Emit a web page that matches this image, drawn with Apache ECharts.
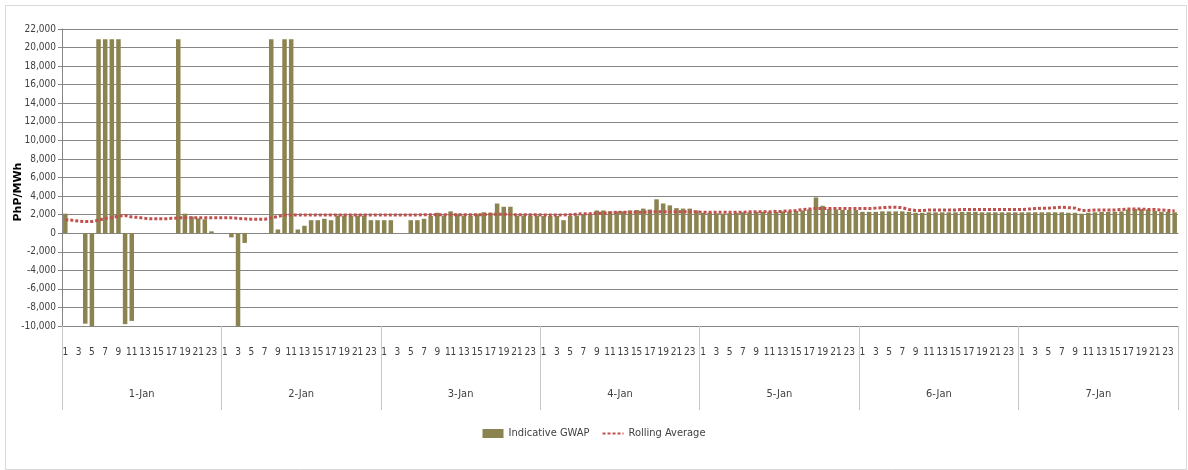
<!DOCTYPE html>
<html>
<head>
<meta charset="utf-8">
<script src="https://cdn.jsdelivr.net/npm/echarts@6/dist/echarts.min.js"></script>
<style>
html,body{margin:0;padding:0;background:#fff;}
#chart{width:1188px;height:470px;}
</style>
</head>
<body>
<div id="chart"></div>
<script>
const days = ['1-Jan','2-Jan','3-Jan','4-Jan','5-Jan','6-Jan','7-Jan'];
const hours = Array.from({length:24}, (_, i) => String(i + 1));
const yTicks = { min: -10000, max: 22000, step: 2000 };

const gwapDay1 = [2100,0,0,-9750,-10000,20900,20900,20900,20900,-9800,-9450,0,0,0,0,0,0,20900,2100,1800,1600,1500,200,0];
const gwapDay2 = [0,-450,-10000,-1050,0,0,0,20900,400,20900,20900,400,800,1400,1400,1550,1400,1900,1900,1900,1900,1900,1400,1400];
const gwapDay3 = [1400,1400,0,0,1400,1400,1550,1850,2200,1900,2350,2100,1900,1900,2100,2250,2200,3200,2850,2850,1900,1900,1900,1900];
const gwapDay4 = [1850,1850,1850,1400,1850,1900,2000,2100,2450,2450,2350,2350,2350,2450,2500,2650,2550,3650,3200,3000,2700,2650,2650,2450];
const gwapDay5 = [2200,2200,2150,2100,2150,2200,2250,2250,2300,2300,2300,2300,2350,2350,2400,2450,2550,3850,2950,2600,2550,2500,2500,2500];
const gwapDay6 = [2300,2300,2300,2350,2350,2350,2350,2300,2200,2200,2250,2250,2250,2250,2250,2300,2300,2300,2250,2250,2250,2250,2250,2250];
const gwapDay7 = [2250,2250,2250,2250,2250,2250,2250,2200,2200,2100,2200,2250,2300,2300,2300,2350,2550,2600,2600,2550,2400,2300,2300,2250];

const rollDay1 = [1450,1400,1300,1250,1250,1400,1600,1650,1850,1900,1750,1700,1600,1550,1550,1550,1600,1650,1650,1650,1650,1650,1650,1650];
const rollDay2 = [1650,1650,1600,1550,1500,1500,1500,1650,1800,1950,1950,1950,1950,1950,1950,1950,1950,1950,1950,1950,1950,1950,1950,1950];
const rollDay3 = [1950,1950,1950,1950,1950,1950,2000,2000,2000,2000,2000,2000,2000,2000,2000,2000,2050,2050,2050,2000,2000,2000,2000,2000];
const rollDay4 = [1950,1950,1950,1950,2000,2050,2100,2100,2150,2150,2200,2250,2250,2250,2250,2250,2300,2300,2300,2300,2300,2300,2300,2300];
const rollDay5 = [2250,2250,2250,2250,2250,2250,2250,2300,2300,2300,2300,2350,2350,2400,2450,2550,2600,2650,2650,2650,2650,2650,2650,2650];
const rollDay6 = [2650,2650,2700,2750,2800,2800,2750,2550,2450,2450,2500,2500,2500,2500,2500,2550,2550,2550,2550,2550,2550,2550,2550,2550];
const rollDay7 = [2550,2600,2650,2700,2700,2750,2800,2750,2700,2450,2450,2500,2500,2500,2500,2550,2600,2600,2600,2550,2550,2500,2450,2400];

const gwap = [].concat(gwapDay1,gwapDay2,gwapDay3,gwapDay4,gwapDay5,gwapDay6,gwapDay7);
const rolling = [].concat(rollDay1,rollDay2,rollDay3,rollDay4,rollDay5,rollDay6,rollDay7);
const hourCats = [];
days.forEach(d => hours.forEach(h => hourCats.push(h)));

const FONT = '"DejaVu Sans Condensed", "Liberation Sans", sans-serif';
const GRID = '#868686';

const chart = echarts.init(document.getElementById('chart'));
chart.setOption({
  animation: false,
  backgroundColor: '#fff',
  textStyle: { fontFamily: FONT },
  grid: { left: 62, right: 10, top: 29, bottom: 144, containLabel: false },
  graphic: [
    { type: 'rect', shape: { x: 5.5, y: 5.5, width: 1181, height: 464 }, style: { fill: 'none', stroke: '#d9d9d9', lineWidth: 1 }, silent: true },
    { type: 'text', x: 18, y: 192, rotation: Math.PI / 2, style: { text: 'PhP/MWh', fill: '#000', font: 'bold 11px "DejaVu Sans", sans-serif', align: 'center', verticalAlign: 'middle' } }
  ],
  legend: {
    bottom: 26,
    left: 'center',
    itemGap: 12,
    itemWidth: 21,
    itemHeight: 9,
    textStyle: { fontFamily: FONT, fontSize: 11, color: '#404040' },
    data: [
      { name: 'Indicative GWAP', icon: 'rect' },
      { name: 'Rolling Average', itemStyle: { opacity: 0 } }
    ]
  },
  xAxis: [
    {
      type: 'category',
      data: hourCats,
      boundaryGap: true,
      axisLine: { show: true, lineStyle: { color: GRID } },
      axisTick: { show: false },
      axisLabel: { interval: 1, margin: 21, fontSize: 10, color: '#404040', fontFamily: FONT, hideOverlap: false },
      splitLine: { show: false }
    },
    {
      type: 'category',
      data: days,
      position: 'bottom',
      boundaryGap: true,
      axisLine: { show: false },
      axisTick: { show: true, length: 84, interval: 0, lineStyle: { color: '#c8c8c8' } },
      axisLabel: { interval: 0, margin: 63, fontSize: 11, color: '#404040', fontFamily: FONT },
      splitLine: { show: false }
    }
  ],
  yAxis: {
    type: 'value',
    min: yTicks.min,
    max: yTicks.max,
    interval: yTicks.step,
    axisLine: { show: true, lineStyle: { color: GRID } },
    axisTick: { show: true, length: 4, lineStyle: { color: GRID } },
    axisLabel: { fontSize: 10, color: '#404040', fontFamily: FONT, margin: 6,
      formatter: v => v.toLocaleString('en-US') },
    splitLine: { show: true, lineStyle: { color: GRID, width: 1 } }
  },
  series: [
    {
      name: 'Indicative GWAP',
      type: 'bar',
      xAxisIndex: 0,
      data: gwap,
      barCategoryGap: '32%',
      itemStyle: { color: '#8C8450' }
    },
    {
      name: 'Rolling Average',
      type: 'line',
      xAxisIndex: 0,
      data: rolling,
      symbol: 'none',
      z: 5,
      itemStyle: { color: '#C0504D' },
      lineStyle: { color: '#C0504D', width: 3, type: [3, 2] }
    }
  ]
});
</script>
</body>
</html>
